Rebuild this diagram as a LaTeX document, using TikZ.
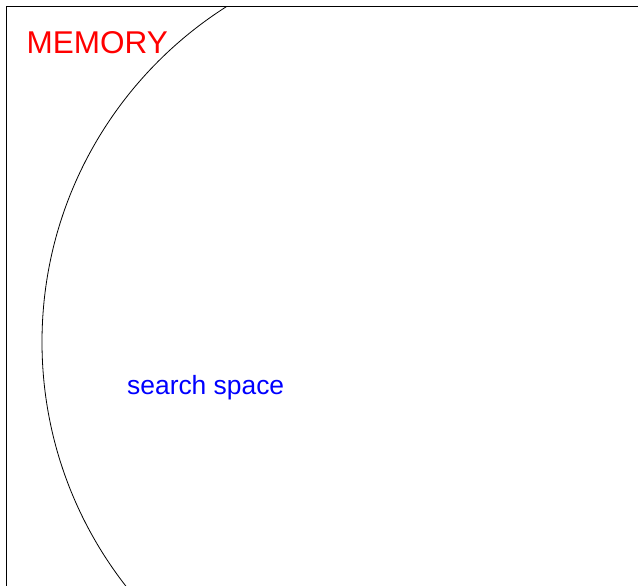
\documentclass[tikz,border=0pt]{standalone}
\usepackage{fontspec}
\setmainfont{Liberation Sans}
\usetikzlibrary{positioning}
\definecolor{memred}{HTML}{FF0000}
\definecolor{spaceblue}{HTML}{0000FF}

\begin{document}
\begin{tikzpicture}[x=1pt,y=-1pt]
\tikzset{label/.style={anchor=base west,inner sep=0pt}}
\useasboundingbox (0,0) rectangle (638,586);
% memory block and search region
\draw[line width=0.9pt] (6.5,6.5) rectangle (700,700);
\begin{scope}
\clip (6.5,6.5) rectangle (700,700);
\draw[line width=0.8pt] (439,342) circle[radius=397];
\end{scope}
\node[label,text=memred,font=\fontsize{31.5}{34}\selectfont] (mem) at (26.5,54) {MEMORY};
\node[label,text=spaceblue,font=\fontsize{26.4}{30}\selectfont] (srch) at (127,394) {search space};
\end{tikzpicture}
\end{document}
